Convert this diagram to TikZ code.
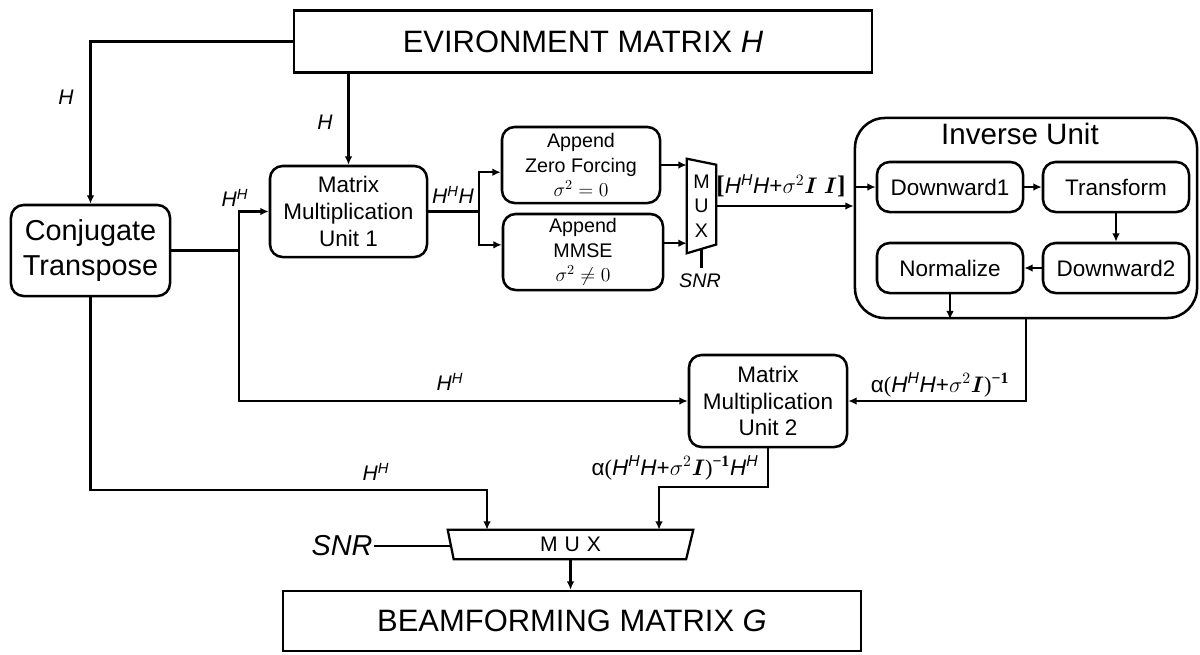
\RequirePackage{fix-cm}
\documentclass[tikz,border=0pt]{standalone}
\usepackage{amsmath,amssymb}
\usepackage{fontspec}
\setmainfont{Liberation Sans}
\newfontfamily\lserif{Liberation Serif}
\usepackage{tikz}
\usetikzlibrary{
  arrows.meta,
  positioning,
  calc
}
\newcommand{\hHH}{\textit{H}\textsuperscript{\textit{H}}}
\newcommand{\invpow}{\textsuperscript{\lserif\bfseries −1}}

\begin{document}
\begin{tikzpicture}[x=0.025cm, y=-0.025cm,
  wire/.style={line width=1.6pt},
  arr/.style={wire, -{Latex[length=6pt,width=5.5pt]}},
  mtxbox/.style={draw, line width=1.8pt, minimum width=14.45cm, minimum height=1.55cm, font=\fontsize{22}{26}\selectfont},
  unitbox/.style={draw, line width=1.8pt, rounded corners=9pt, align=center, inner sep=0pt},
  stagebox/.style={unitbox, minimum width=3.65cm, minimum height=1.25cm, font=\fontsize{16}{19}\selectfont},
  sig/.style={font=\fontsize{15}{17}\selectfont, inner sep=1pt},
  mathlbl/.style={font=\fontsize{16}{18}\selectfont, inner sep=1pt}
]
  \useasboundingbox (0,0) rectangle (1200,654);

  % blocks
  \node[mtxbox] (env) at (583,41.5) {EVIRONMENT MATRIX \textit{H}};
  \node[unitbox, minimum width=3.975cm, minimum height=2.275cm, font=\fontsize{20.5}{25}\selectfont] (ct) at (90.5,250.5) {Conjugate\\Transpose};
  \node[unitbox, minimum width=3.925cm, minimum height=2.275cm, font=\fontsize{16}{19}\selectfont] (mmu1) at (348.5,211.5) {Matrix\\Multiplication\\Unit 1};
  \node[unitbox, minimum width=3.95cm, minimum height=1.9cm, font=\fontsize{14}{17.5}\selectfont] (zf) at (581,165) {Append\\Zero Forcing\\$\sigma^2=0$};
  \node[unitbox, minimum width=4cm, minimum height=1.9cm, font=\fontsize{14}{17.5}\selectfont] (mmse) at (583,252) {Append\\MMSE\\$\sigma^2\neq 0$};
  \node[minimum width=0.725cm, minimum height=2.35cm, inner sep=0pt, align=center, font=\fontsize{14}{17.5}\selectfont] (mux1) at (701.5,206) {M\\U\\X};
  \node[sig, font=\fontsize{14}{16}\selectfont\itshape] (snr1) at (700,281) {SNR};

  % inverse unit
  \node[draw, line width=1.8pt, rounded corners=0.75cm, minimum width=8.55cm, minimum height=5cm] (inv) at (1026,218) {};
  \node[font=\fontsize{21}{24}\selectfont] (invt) at (1020,134) {Inverse Unit};
  \node[stagebox] (dw1) at (950,187) {Downward1};
  \node[stagebox] (tf) at (1116,187) {Transform};
  \node[stagebox] (nrm) at (950,268) {Normalize};
  \node[stagebox] (dw2) at (1116,268) {Downward2};

  \node[unitbox, minimum width=3.95cm, minimum height=2.3cm, font=\fontsize{16}{19}\selectfont] (mmu2) at (768,401) {Matrix\\Multiplication\\Unit 2};

  \node[minimum width=6.125cm, minimum height=0.725cm, inner sep=0pt, font=\fontsize{15}{18}\selectfont] (mux2) at (570.5,544.5) {M\,\,U\,\,X};
  \node[font=\fontsize{20.5}{24}\selectfont\itshape, inner sep=1pt] (snr2) at (342,546) {SNR};
  \node[mtxbox, minimum height=1.5cm] (bf) at (572,621) {BEAMFORMING MATRIX \textit{G}};

  % mux borders
  \draw[wire] (mux1.north west) -- ([yshift=-0.15cm]mux1.north east) -- ([yshift=0.22cm]mux1.south east) -- (mux1.south west) -- cycle;
  \draw[wire] (mux2.north west) -- (mux2.north east) -- ([xshift=-0.18cm]mux2.south east) -- ([xshift=0.15cm]mux2.south west) -- cycle;

  % junctions
  \coordinate (j1) at (239,250.5);
  \coordinate (j2) at (479,211.5);
  \coordinate (k1) at (487,490);
  \coordinate (k2) at (659,487);
  \coordinate (m2l) at ([xshift=0.08cm]mux2.west);

  % connectors
  \draw[arr] (env.west) -| (ct.north);
  \draw[arr] (env.south -| mmu1.north) -- (mmu1.north);
  \draw[wire] (ct.east) -- (j1);
  \draw[arr] (j1) |- (mmu1.west);
  \draw[arr] (j1) |- (mmu2.west);
  \draw[wire] (mmu1.east) -- (j2);
  \draw[arr] (j2) |- ([yshift=-0.18cm]zf.west);
  \draw[arr] (j2) |- ([yshift=0.18cm]mmse.west);
  \draw[arr] (zf.east) -- (zf.east -| mux1.west);
  \draw[arr] ([yshift=0.22cm]mmse.east) -- ([yshift=0.22cm]mmse.east -| mux1.west);
  \draw[wire] ([yshift=0.11cm]mux1.south) -- ([yshift=0.11cm]mux1.south |- snr1.north);
  \draw[arr] (mux1.east) -- (mux1.east -| inv.west);
  \draw[arr] (dw1.west -| inv.west) -- (dw1.west);
  \draw[arr] (dw1) -- (tf);
  \draw[arr] (tf) -- (dw2);
  \draw[arr] (dw2) -- (nrm);
  \draw[arr] (nrm.south) -- (nrm.south |- inv.south);
  \draw[arr] (inv.south) |- (mmu2.east);
  \draw[arr] (ct.south) |- (k1) -- (k1 |- mux2.north);
  \draw[arr] (mmu2.south) |- (k2) -- (k2 |- mux2.north);
  \draw[wire] (snr2.east) -- (snr2.east -| m2l);
  \draw[arr] (mux2.south) -- (mux2.south |- bf.north);

  % labels
  \node[sig] (lh1) at (66,97) {\textit{H}};
  \node[sig] (lh2) at (325,122) {\textit{H}};
  \node[sig] (lhh1) at (235,198) {\hHH};
  \node[sig] (lhhh) at (453,195) {\hHH\textit{H}};
  \node[mathlbl] (laug) at (781,186) {{\lserif\bfseries\fontsize{18}{20}\selectfont[}\hHH\textit{H}+$\sigma^2\boldsymbol{I}\;\boldsymbol{I}${\lserif\bfseries\fontsize{18}{20}\selectfont]}};
  \node[mathlbl] (linv) at (940,385) {α{\lserif(}\hHH\textit{H}+$\sigma^2\boldsymbol{I}${\lserif)}\invpow};
  \node[sig] (lhh2) at (450,382) {\hHH};
  \node[sig] (lhh3) at (376,472) {\hHH};
  \node[mathlbl] (lout) at (675,468) {α{\lserif(}\hHH\textit{H}+$\sigma^2\boldsymbol{I}${\lserif)}\invpow\hHH};
\end{tikzpicture}
\end{document}
